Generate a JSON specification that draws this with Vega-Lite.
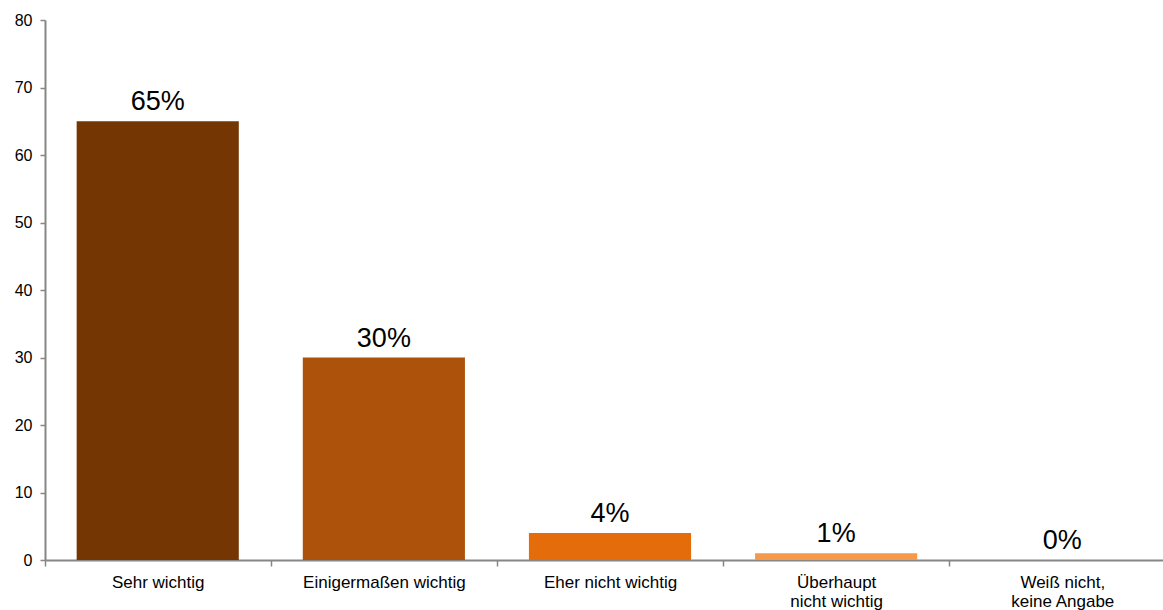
{
  "$schema": "https://vega.github.io/schema/vega-lite/v6.json",
  "autosize": {"type": "none"},
  "width": 1118,
  "height": 540,
  "padding": {"left": 45, "top": 20, "right": 0, "bottom": 50},
  "background": "white",
  "config": {
    "view": {"stroke": null},
    "font": "Liberation Sans"
  },
  "data": {
    "values": [
      {"cat": "Sehr wichtig", "value": 65, "label": "65%", "color": "#743703"},
      {"cat": "Einigermaßen wichtig", "value": 30, "label": "30%", "color": "#AD520A"},
      {"cat": "Eher nicht wichtig", "value": 4, "label": "4%", "color": "#E46C0A"},
      {"cat": "Überhaupt|nicht wichtig", "value": 1, "label": "1%", "color": "#F59A4A"},
      {"cat": "Weiß nicht,|keine Angabe", "value": 0, "label": "0%", "color": "#000000"}
    ]
  },
  "encoding": {
    "x": {
      "field": "cat",
      "type": "nominal",
      "sort": null,
      "scale": {"range": [0, 1130], "paddingInner": 0.283, "paddingOuter": 0.14},
      "axis": {
        "title": null,
        "labelAngle": 0,
        "labelExpr": "split(datum.label, '|')",
        "labelFontSize": 17,
        "labelColor": "#000000",
        "labelPadding": 8,
        "labelLineHeight": 19,
        "tickOffset": -113,
        "labelOffset": 113,
        "tickSize": 6,
        "tickColor": "#868686",
        "tickWidth": 1.5,
        "domainColor": "#868686",
        "domainWidth": 2,
        "labelLimit": 300
      }
    },
    "y": {
      "field": "value",
      "type": "quantitative",
      "scale": {"domain": [0, 80]},
      "axis": {
        "title": null,
        "values": [0, 10, 20, 30, 40, 50, 60, 70, 80],
        "grid": false,
        "labelFontSize": 16,
        "labelColor": "#000000",
        "labelPadding": 8,
        "tickSize": 5,
        "tickColor": "#868686",
        "tickWidth": 1.5,
        "domainColor": "#868686",
        "domainWidth": 2
      }
    }
  },
  "layer": [
    {
      "mark": {"type": "bar"},
      "encoding": {
        "color": {"field": "color", "type": "nominal", "scale": null}
      }
    },
    {
      "mark": {"type": "text", "fontSize": 27, "baseline": "alphabetic", "dy": -11, "color": "#000000"},
      "encoding": {"text": {"field": "label"}}
    }
  ]
}
